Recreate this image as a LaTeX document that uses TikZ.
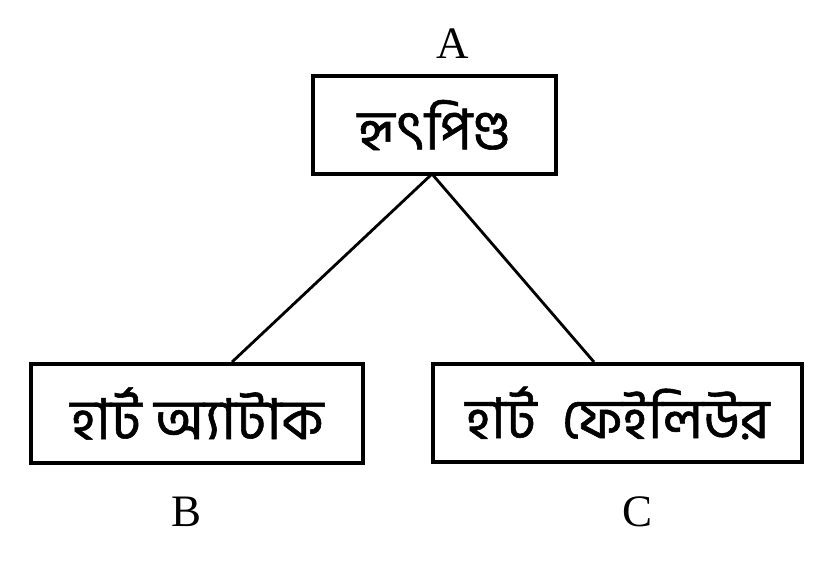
\documentclass[tikz,border=0pt]{standalone}
\usepackage{fontspec}
\setmainfont{Liberation Serif}
\newfontfamily\bengfont[Script=Bengali, FakeBold=1]{Hind Siliguri}
\usepackage{tikz}
\usetikzlibrary{positioning}

\begin{document}
\begin{tikzpicture}[x=0.025cm, y=-0.025cm,
    box/.style={rectangle, draw=black, line width=2.8pt, fill=white,
        font=\bengfont\fontsize{40}{44}\selectfont, inner sep=0pt},
    lbl/.style={font=\fontsize{32}{36}\selectfont},
    link/.style={line width=2pt, black}
]
    \useasboundingbox (0,0) rectangle (834,570);

    % Boxes
    \node[box, minimum width=243*0.025cm, minimum height=98*0.025cm] (heart) at (434.5,125) {হৃৎপিণ্ড};
    \node[box, minimum width=332*0.025cm, minimum height=99*0.025cm] (attack) at (197,413.5) {হার্ট অ্যাটাক};
    \node[box, minimum width=369*0.025cm, minimum height=98*0.025cm] (failure) at (617.5,413) {হার্ট\ \ ফেইলিউর};

    % Connectors
    \coordinate (top) at (432,174);
    \draw[link] (top) -- (attack.north -| 232,0);
    \draw[link] (top) -- (failure.north -| 594,0);

    % Labels
    \node[lbl] (la) at (453,44) {A};
    \node[lbl] (lb) at (187,512) {B};
    \node[lbl] (lc) at (637,512) {C};
\end{tikzpicture}
\end{document}
